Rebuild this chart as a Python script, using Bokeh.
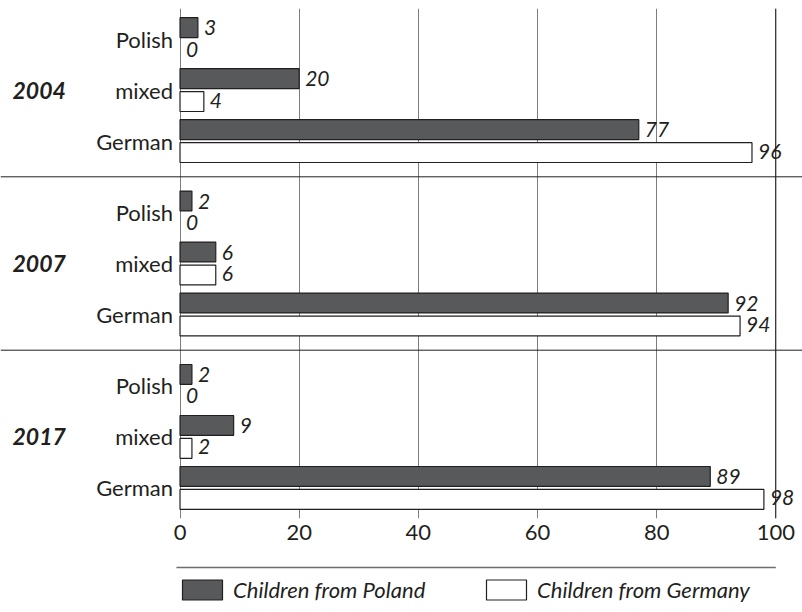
from bokeh.plotting import figure
from bokeh.models import (ColumnDataSource, FactorRange, FixedTicker, Range1d, Legend,
                          LegendItem, Span, CDSView, BooleanFilter)
from bokeh.transform import dodge
from bokeh.layouts import column
from bokeh.core.properties import value
from bokeh.embed import file_html
from bokeh.resources import INLINE

# ---- data ----
years = ["2004", "2007", "2017"]
categories = ["Polish", "mixed", "German"]
poland_2004 = [3, 20, 77]
germany_2004 = [0, 4, 96]
poland_2007 = [2, 6, 92]
germany_2007 = [0, 6, 94]
poland_2017 = [2, 9, 89]
germany_2017 = [0, 2, 98]
x_ticks = [0, 20, 40, 60, 80, 100]
series_names = ["Children from Poland", "Children from Germany"]

FONT = "Lato"
INK = "#231f20"
DARK = "#58595b"
GRID = "#7c7d80"

poland = poland_2004 + poland_2007 + poland_2017
germany = germany_2004 + germany_2007 + germany_2017
factors = [(y, c) for y in years for c in categories]

src = ColumnDataSource(dict(
    y=factors,
    poland=poland,
    germany=germany,
    pl=[str(v) for v in poland],
    gl=[str(v) for v in germany],
    cat=[c for _, c in factors],
))

XMIN, XMAX = -30.13, 104.48
y_range = FactorRange(factors=factors[::-1], group_padding=0.4,
                      range_padding=0.0204, range_padding_units="percent")

p = figure(width=802, height=560, x_range=Range1d(XMIN, XMAX), y_range=y_range,
           y_axis_location=None, output_backend="svg", toolbar_location=None,
           min_border_left=0, min_border_right=0, min_border_top=8, min_border_bottom=42)
p.outline_line_color = None
p.ygrid.visible = False
p.xgrid.ticker = FixedTicker(ticks=x_ticks)
p.xgrid.grid_line_color = GRID
p.xgrid.grid_line_width = 1
p.xaxis.ticker = FixedTicker(ticks=x_ticks)
p.xaxis.axis_line_color = None
p.xaxis.major_tick_line_color = None
p.xaxis.minor_tick_line_color = None
p.xaxis.major_tick_out = 0
p.xaxis.major_tick_in = 0
p.xaxis.major_label_standoff = 6
p.xaxis.major_label_text_font = FONT
p.xaxis.major_label_text_font_size = "22px"
p.xaxis.major_label_text_color = INK

p.add_layout(Span(location=100, dimension="height", line_color=INK, line_width=1))

OFF = 0.225
BH = 0.39
pview = CDSView(filter=BooleanFilter(booleans=[v > 0 for v in poland]))
gview = CDSView(filter=BooleanFilter(booleans=[v > 0 for v in germany]))
p.hbar(y=dodge("y", OFF, range=y_range), left=0, right="poland", height=BH,
       fill_color=DARK, line_color=INK, line_width=1.2, source=src, view=pview)
p.hbar(y=dodge("y", -OFF, range=y_range), left=0, right="germany", height=BH,
       fill_color="white", line_color=INK, line_width=1.2, source=src, view=gview)

lbl = dict(x_offset=6, text_baseline="middle", text_font=value(FONT),
           text_font_style="italic", text_font_size="21px", text_color=INK, source=src)
p.text(x="poland", y=dodge("y", OFF, range=y_range), text="pl", **lbl)
p.text(x="germany", y=dodge("y", -OFF + 0.03, range=y_range), text="gl", **lbl)

p.text(x=0, y="y", text="cat", x_offset=-7, text_align="right", text_baseline="middle",
       text_font=value(FONT), text_font_size="22px", text_color=INK, source=src)

ysrc = ColumnDataSource(dict(y=[(yr, "mixed") for yr in years], t=years))
p.text(x=XMIN, y="y", text="t", x_offset=12, text_align="left", text_baseline="middle",
       text_font=value(FONT), text_font_style="bold italic", text_font_size="23px",
       text_color=INK, source=ysrc)

sep = ColumnDataSource(dict(y=[(yr, "German", -0.7) for yr in years[:-1]]))
p.segment(x0=XMIN, x1=XMAX, y0="y", y1="y", line_color=INK, line_width=1, source=sep)

# ---- legend strip ----
LH = 52
lf = figure(width=802, height=LH, x_range=p.x_range, y_range=Range1d(0, LH),
            x_axis_location=None, y_axis_location=None, output_backend="svg",
            toolbar_location=None, min_border=0)
lf.outline_line_color = None
lf.xgrid.visible = False
lf.ygrid.visible = False
lf.segment(x0=-0.6, x1=100, y0=LH - 7, y1=LH - 7, line_color="#6d6e71", line_width=1.5)

offscreen = ColumnDataSource(dict(y=[-1000], r=[0]))
r1 = lf.hbar(y="y", right="r", height=1, fill_color=DARK, line_color=INK, line_width=1.2, source=offscreen)
r2 = lf.hbar(y="y", right="r", height=1, fill_color="white", line_color=INK, line_width=1.2, source=offscreen)
legend = Legend(items=[LegendItem(label=series_names[0], renderers=[r1]),
                       LegendItem(label=series_names[1], renderers=[r2])],
                orientation="horizontal", location=(177, 9.5),
                glyph_width=50, glyph_height=25, label_standoff=6, label_width=248,
                label_height=25, spacing=0, padding=0, margin=0,
                border_line_color=None, background_fill_alpha=0,
                label_text_font=FONT, label_text_font_style="italic",
                label_text_font_size="22px", label_text_color=INK)
lf.add_layout(legend)

layout = column(p, lf, spacing=0)
open("out.html", "w").write(file_html(layout, INLINE))
